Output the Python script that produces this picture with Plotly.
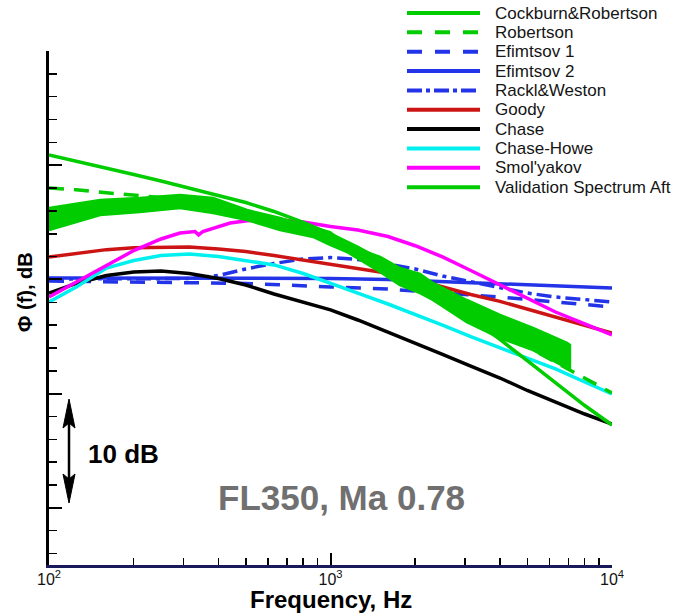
import plotly.graph_objects as go

# ---------------- data ----------------
freq = [100, 125, 160, 200, 250, 315, 400, 500, 630, 800, 1000, 1250, 1600,
        2000, 2500, 3150, 4000, 5000, 6300, 8000, 10000]

cockburn_robertson = [35.90, 35.37, 34.76, 34.19, 33.62, 33.01, 32.39, 31.74, 30.95, 30.00, 28.98,
                      27.81, 26.35, 24.93, 23.38, 21.64, 19.75, 17.89, 15.91, 13.96, 12.26]
robertson = [33.01, 32.85, 32.58, 32.40, 32.20, 31.96, 31.51, 30.98, 30.15, 29.20, 28.16,
             27.05, 25.67, 24.41, 23.11, 21.78, 20.40, 19.10, 17.76, 16.36, 15.06]
goody = [26.97, 27.29, 27.61, 27.77, 27.84, 27.84, 27.67, 27.44, 27.09, 26.70, 26.35,
         25.98, 25.55, 24.99, 24.32, 23.68, 23.08, 22.41, 21.66, 21.00, 20.31]
chase = [23.81, 24.65, 25.35, 25.65, 25.74, 25.52, 25.08, 24.51, 23.73, 22.98, 22.33,
         21.45, 20.40, 19.39, 18.43, 17.42, 16.37, 15.28, 14.23, 13.22, 12.34]
chase_howe = [23.03, 24.34, 26.00, 26.66, 27.10, 27.23, 27.01, 26.66, 26.27, 25.52, 24.69,
              23.81, 22.85, 21.97, 21.01, 20.00, 19.00, 18.08, 17.16, 16.02, 14.97]
rackl_weston = [25.04, 25.04, 25.04, 25.04, 25.04, 25.08, 25.35, 25.92, 26.40, 26.79, 26.92,
                26.75, 26.35, 25.92, 25.30, 24.78, 24.25, 23.81, 23.46, 23.20, 23.03]

smol_freq = [100, 125, 160, 200, 250, 292, 330, 340, 352, 400, 440, 505, 630, 800, 1000,
             1250, 1600, 2000, 2500, 3150, 4000, 5000, 6300, 8000, 10000]
smolyakov = [23.46, 24.78, 26.27, 27.53, 28.54, 29.07, 29.20, 28.90, 29.20, 29.60, 29.94, 30.14,
             30.25, 30.03, 29.64, 29.33, 28.76, 27.95, 26.97, 25.78, 24.51, 23.33, 22.15, 21.10, 20.14]

efim1_freq = [100, 250, 500, 1000, 1600, 2500, 4000, 6300, 10000]
efimtsov1 = [24.86, 24.78, 24.65, 24.34, 24.16, 23.81, 23.46, 23.03, 22.59]

efim2_freq = [100, 1000, 1600, 2500, 4000, 6300, 10000]
efimtsov2 = [25.13, 25.09, 24.99, 24.82, 24.60, 24.43, 24.25]

band_freq = [100, 152, 210, 292, 383, 505, 662, 867, 996, 1145, 1500, 1765, 2080,
             2310, 3050, 4000, 5240, 6920, 7090]
band_upper = [31.26, 31.96, 32.13, 32.39, 32.13, 31.08, 30.38, 29.59, 29.15, 28.02, 26.97,
              26.00, 25.48, 24.69, 23.20, 21.89, 20.75, 19.44, 19.26]
band_lower = [29.33, 30.64, 30.90, 31.26, 30.82, 30.20, 29.33, 28.72, 28.02, 27.40, 25.65,
              24.51, 23.81, 23.20, 21.27, 19.87, 18.82, 17.25, 17.25]

x_tick_vals = [100, 1000, 10000]
x_tick_text = ["10<sup>2</sup>", "10<sup>3</sup>", "10<sup>4</sup>"]
x_minor_vals = [200, 300, 400, 500, 600, 700, 800, 900,
                2000, 3000, 4000, 5000, 6000, 7000, 8000, 9000]
y_major_vals = [5, 15, 25, 35, 45]

# ---------------- styles ----------------
GREEN = "#00cc00"
BLUE = "#2233e8"
RED = "#cc1414"
FONT = "Liberation Sans, Arial, sans-serif"

series = {
    "Cockburn&Robertson": dict(x=freq, y=cockburn_robertson, color=GREEN, dash="solid"),
    "Robertson": dict(x=freq, y=robertson, color=GREEN, dash="15px,10px"),
    "Efimtsov 1": dict(x=efim1_freq, y=efimtsov1, color=BLUE, dash="15px,12px"),
    "Efimtsov 2": dict(x=efim2_freq, y=efimtsov2, color=BLUE, dash="solid"),
    "Rackl&Weston": dict(x=freq, y=rackl_weston, color=BLUE, dash="15px,5px,4px,5px"),
    "Goody": dict(x=freq, y=goody, color=RED, dash="solid"),
    "Chase": dict(x=freq, y=chase, color="black", dash="solid"),
    "Chase-Howe": dict(x=freq, y=chase_howe, color="#00f0f0", dash="solid"),
    "Smol'yakov": dict(x=smol_freq, y=smolyakov, color="#ff00ff", dash="solid"),
}
legend_order = ["Cockburn&Robertson", "Robertson", "Efimtsov 1", "Efimtsov 2", "Rackl&Weston",
                "Goody", "Chase", "Chase-Howe", "Smol'yakov", "Validation Spectrum Aft"]
draw_order = ["Efimtsov 2", "Efimtsov 1", "Rackl&Weston", "Goody", "Chase", "Chase-Howe",
              "Smol'yakov", "Robertson", "Cockburn&Robertson"]

fig = go.Figure()
for name in draw_order:
    s = series[name]
    fig.add_trace(go.Scatter(x=s["x"], y=s["y"], mode="lines", name=name, showlegend=False,
                             line=dict(color=s["color"], width=3.5, dash=s["dash"])))

# validation spectrum: noisy band drawn as its envelope
fig.add_trace(go.Scatter(
    x=band_freq + band_freq[::-1], y=band_upper + band_lower[::-1],
    mode="lines", fill="toself", fillcolor=GREEN, name="Validation Spectrum Aft",
    showlegend=False, line=dict(color=GREEN, width=2.5)))

# ---------------- geometry (page pixels) ----------------
plot_l, plot_r, plot_t, plot_b = 49, 612, 51, 565
W, H = plot_r - plot_l, plot_b - plot_t


def px(xp):
    return (xp - plot_l) / W


def py(yp):
    return (plot_b - yp) / H


shapes = []
annotations = []
for i, name in enumerate(legend_order):
    yy = py(13 + i * 19.35)
    if name in series:
        col, dash = series[name]["color"], series[name]["dash"]
        if dash in ("15px,10px", "15px,12px"):
            dash = "15px,13px"
        if dash == "15px,5px,4px,5px":
            dash = "15px,4px,4px,4px"
    else:
        col, dash = GREEN, "solid"
    shapes.append(dict(type="line", xref="paper", yref="paper", x0=px(407), x1=px(480),
                       y0=yy, y1=yy, line=dict(color=col, width=4, dash=dash)))
    annotations.append(dict(xref="paper", yref="paper", x=px(493), y=yy, xanchor="left",
                            yanchor="middle", text=name, showarrow=False,
                            font=dict(family=FONT, size=17, color="#151515")))

# 10 dB double arrow
ax_x = px(69)
shapes.append(dict(type="line", xref="paper", yref="paper", x0=ax_x, x1=ax_x,
                   y0=py(420), y1=py(482), line=dict(color="black", width=2.5)))
shapes.append(dict(type="path", xref="paper", yref="paper", fillcolor="black",
                   line=dict(color="black", width=1),
                   path=f"M {ax_x},{py(399)} L {px(63)},{py(428)} L {ax_x},{py(423)} L {px(75)},{py(428)} Z"))
shapes.append(dict(type="path", xref="paper", yref="paper", fillcolor="black",
                   line=dict(color="black", width=1),
                   path=f"M {ax_x},{py(503)} L {px(63)},{py(474)} L {ax_x},{py(479)} L {px(75)},{py(474)} Z"))

annotations.append(dict(xref="paper", yref="paper", x=px(123.5), y=py(454), text="<b>10 dB</b>",
                        showarrow=False, xanchor="center", yanchor="middle",
                        font=dict(family=FONT, size=26, color="black")))
annotations.append(dict(xref="paper", yref="paper", x=px(341), y=py(497),
                        text="<b>FL350, Ma 0.78</b>", showarrow=False,
                        xanchor="center", yanchor="middle",
                        font=dict(family=FONT, size=35, color="#707070")))
annotations.append(dict(xref="paper", yref="paper", x=px(25), y=py(292),
                        text="<b>\u03a6 (f), dB</b>", showarrow=False, textangle=-90,
                        xanchor="center", yanchor="middle",
                        font=dict(family=FONT, size=20, color="black")))
annotations.append(dict(xref="paper", yref="paper", x=px(331), y=py(599),
                        text="<b>Frequency, Hz</b>", showarrow=False,
                        xanchor="center", yanchor="middle",
                        font=dict(family=FONT, size=24, color="black")))

fig.update_layout(
    width=676, height=613,
    margin=dict(l=plot_l, r=676 - plot_r, t=plot_t, b=613 - plot_b, autoexpand=False),
    paper_bgcolor="white", plot_bgcolor="white",
    font=dict(family=FONT, color="black"),
    showlegend=False,
    shapes=shapes, annotations=annotations,
    xaxis=dict(type="log", range=[2, 4], showgrid=False, zeroline=False,
               showline=True, linecolor="#1a1a5a", linewidth=3,
               ticks="inside", ticklen=12, tickwidth=2, tickcolor="black",
               tickmode="array", tickvals=x_tick_vals, ticktext=x_tick_text,
               tickfont=dict(family=FONT, size=16, color="#111111"),
               ticklabelstandoff=-2,
               minor=dict(tickmode="array", tickvals=x_minor_vals, ticks="inside",
                          ticklen=7, tickwidth=1.5, tickcolor="black", showgrid=False),
               automargin=False),
    yaxis=dict(range=[0, 45], showgrid=False, zeroline=False,
               showline=True, linecolor="black", linewidth=3,
               ticks="inside", ticklen=13, tickwidth=2, tickcolor="black",
               tickmode="array", tickvals=y_major_vals, showticklabels=False,
               minor=dict(tickmode="array",
                          tickvals=[v for v in range(1, 45, 2) if v not in y_major_vals],
                          ticks="inside", ticklen=8, tickwidth=1.5, tickcolor="black",
                          showgrid=False),
               automargin=False),
)

fig.write_html("out.html",
               config={"displayModeBar": False, "staticPlot": True},
               post_script="document.body.style.margin='0';document.body.style.overflow='hidden';")
